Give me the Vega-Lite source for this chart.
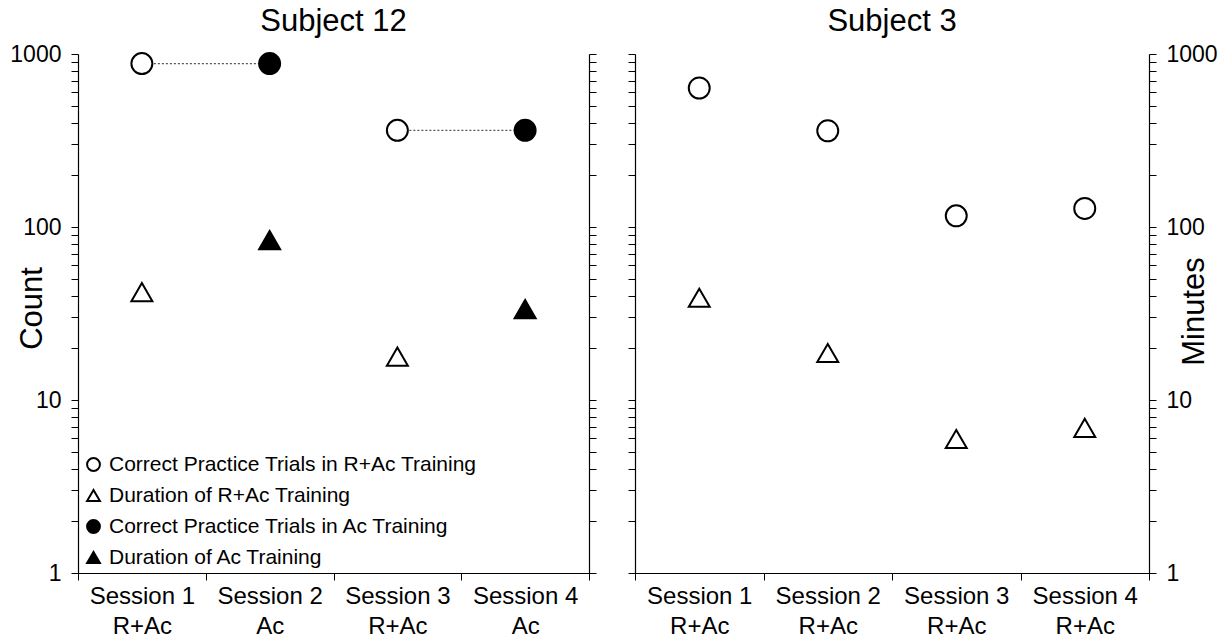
{
  "$schema": "https://vega.github.io/schema/vega-lite/v6.json",
  "padding": {"left": 9, "top": 6, "right": 5, "bottom": 2},
  "background": "white",
  "config": {
    "font": "Liberation Sans",
    "view": {"stroke": null},
    "axis": {
      "labelFont": "Liberation Sans", "labelFontSize": 23, "labelColor": "black",
      "titleFont": "Liberation Sans", "titleFontSize": 31, "titleFontWeight": "normal", "titleColor": "black",
      "domainColor": "black", "domainWidth": 1.2, "tickColor": "black", "tickWidth": 1, "tickSize": 7, "grid": false, "labelPadding": 10
    },
    "title": {"font": "Liberation Sans", "fontSize": 31, "fontWeight": "normal", "color": "black"}
  },
  "datasets": {
    "s12": [
      {"session": "Session 1|R+Ac", "series": "Correct Practice Trials in R+Ac Training", "value": 880, "pair": "A"},
      {"session": "Session 1|R+Ac", "series": "Duration of R+Ac Training", "value": 42, "pair": "none"},
      {"session": "Session 2|Ac", "series": "Correct Practice Trials in Ac Training", "value": 880, "pair": "A"},
      {"session": "Session 2|Ac", "series": "Duration of Ac Training", "value": 84, "pair": "none"},
      {"session": "Session 3|R+Ac", "series": "Correct Practice Trials in R+Ac Training", "value": 362, "pair": "B"},
      {"session": "Session 3|R+Ac", "series": "Duration of R+Ac Training", "value": 17.8, "pair": "none"},
      {"session": "Session 4|Ac", "series": "Correct Practice Trials in Ac Training", "value": 362, "pair": "B"},
      {"session": "Session 4|Ac", "series": "Duration of Ac Training", "value": 33.5, "pair": "none"}
    ],
    "s3": [
      {"session": "Session 1|R+Ac", "series": "Correct Practice Trials in R+Ac Training", "value": 636},
      {"session": "Session 1|R+Ac", "series": "Duration of R+Ac Training", "value": 39},
      {"session": "Session 2|R+Ac ", "series": "Correct Practice Trials in R+Ac Training", "value": 360},
      {"session": "Session 2|R+Ac ", "series": "Duration of R+Ac Training", "value": 18.7},
      {"session": "Session 3|R+Ac", "series": "Correct Practice Trials in R+Ac Training", "value": 116},
      {"session": "Session 3|R+Ac", "series": "Duration of R+Ac Training", "value": 5.95},
      {"session": "Session 4|R+Ac", "series": "Correct Practice Trials in R+Ac Training", "value": 128},
      {"session": "Session 4|R+Ac", "series": "Duration of R+Ac Training", "value": 6.9}
    ]
  },
  "spacing": 30,
  "resolve": {
    "scale": {"fill": "independent", "shape": "independent", "stroke": "independent"},
    "legend": {"fill": "independent", "shape": "independent", "stroke": "independent"}
  },
  "hconcat": [
    {
      "width": 511, "height": 519,
      "title": {"text": "Subject 12", "offset": 5},
      "data": {"name": "s12"},
      "encoding": {
        "x": {
          "field": "session", "type": "nominal", "sort": null,
          "scale": {"type": "band", "paddingInner": 0, "paddingOuter": 0},
          "axis": {"title": null, "labelAngle": 0, "tickBand": "extent", "labelExpr": "split(datum.label, '|')", "labelPadding": 4, "labelLineHeight": 30, "labelFontSize": 24}
        }
      },
      "layer": [
        {
          "transform": [{"filter": "datum.pair != 'none'"}],
          "mark": {"type": "line", "color": "#555555", "strokeWidth": 1.3, "strokeDash": [2, 2]},
          "encoding": {
            "y": {"field": "value", "type": "quantitative", "axis": null},
            "detail": {"field": "pair"}
          }
        },
        {
          "mark": {"type": "point", "filled": true, "strokeWidth": 2, "opacity": 1, "size": 440},
          "encoding": {
            "y": {
              "field": "value", "type": "quantitative",
              "scale": {"type": "log", "domain": [1, 1000], "nice": false},
              "axis": {
                "title": "Count", "orient": "left", "titleX": -37, "titleY": 254, "titleBaseline": "alphabetic",
                "values": [1,2,3,4,5,6,7,8,9,10,20,30,40,50,60,70,80,90,100,200,300,400,500,600,700,800,900,1000],
                "labelExpr": "(datum.value==1||datum.value==10||datum.value==100||datum.value==1000) ? format(datum.value,'d') : ''",
                "labelOverlap": false
              }
            },
            "shape": {
              "field": "series", "type": "nominal",
              "scale": {"domain": ["Correct Practice Trials in R+Ac Training", "Duration of R+Ac Training", "Correct Practice Trials in Ac Training", "Duration of Ac Training"], "range": ["circle", "triangle-up", "circle", "triangle-up"]},
              "legend": {"title": null, "orient": "bottom-left", "offset": 5, "labelFontSize": 21, "labelFont": "Liberation Sans", "labelColor": "black", "labelLimit": 600, "symbolSize": 165, "symbolStrokeWidth": 2, "rowPadding": 9, "labelOffset": 5, "symbolOffset": 0}
            },
            "fill": {
              "field": "series", "type": "nominal",
              "scale": {"domain": ["Correct Practice Trials in R+Ac Training", "Duration of R+Ac Training", "Correct Practice Trials in Ac Training", "Duration of Ac Training"], "range": ["white", "white", "black", "black"]},
              "legend": {"title": null, "orient": "bottom-left", "offset": 5, "labelFontSize": 21, "labelFont": "Liberation Sans", "labelColor": "black", "labelLimit": 600, "symbolSize": 165, "symbolStrokeWidth": 2, "rowPadding": 9, "labelOffset": 5, "symbolOffset": 0}
            },
            "stroke": {
              "field": "series", "type": "nominal",
              "scale": {"domain": ["Correct Practice Trials in R+Ac Training", "Duration of R+Ac Training", "Correct Practice Trials in Ac Training", "Duration of Ac Training"], "range": ["black", "black", "black", "black"]},
              "legend": {"title": null, "orient": "bottom-left", "offset": 5, "labelFontSize": 21, "labelFont": "Liberation Sans", "labelColor": "black", "labelLimit": 600, "symbolSize": 165, "symbolStrokeWidth": 2, "rowPadding": 9, "labelOffset": 5, "symbolOffset": 0}
            }
          }
        },
        {
          "mark": {"type": "point", "opacity": 0},
          "encoding": {
            "y": {
              "field": "value", "type": "quantitative",
              "axis": {
                "title": null, "orient": "right", "labels": false,
                "values": [1,2,3,4,5,6,7,8,9,10,20,30,40,50,60,70,80,90,100,200,300,400,500,600,700,800,900,1000]
              }
            }
          }
        }
      ],
      "resolve": {"axis": {"y": "independent"}}
    },
    {
      "width": 514, "height": 519,
      "title": {"text": "Subject 3", "offset": 5},
      "data": {"name": "s3"},
      "encoding": {
        "x": {
          "field": "session", "type": "nominal", "sort": null,
          "scale": {"type": "band", "paddingInner": 0, "paddingOuter": 0},
          "axis": {"title": null, "labelAngle": 0, "tickBand": "extent", "labelExpr": "split(datum.label, '|')", "labelPadding": 4, "labelLineHeight": 30, "labelFontSize": 24}
        }
      },
      "layer": [
        {
          "mark": {"type": "point", "filled": true, "fill": "white", "stroke": "black", "strokeWidth": 2, "opacity": 1, "size": 440},
          "encoding": {
            "y": {
              "field": "value", "type": "quantitative",
              "scale": {"type": "log", "domain": [1, 1000], "nice": false},
              "axis": {
                "title": null, "orient": "left", "labels": false,
                "values": [1,2,3,4,5,6,7,8,9,10,20,30,40,50,60,70,80,90,100,200,300,400,500,600,700,800,900,1000]
              }
            },
            "shape": {
              "field": "series", "type": "nominal",
              "scale": {"domain": ["Correct Practice Trials in R+Ac Training", "Duration of R+Ac Training"], "range": ["circle", "triangle-up"]},
              "legend": null
            }
          }
        },
        {
          "mark": {"type": "point", "opacity": 0},
          "encoding": {
            "y": {
              "field": "value", "type": "quantitative",
              "axis": {
                "title": "Minutes", "orient": "right", "titleAngle": -90, "titleX": 54, "titleY": 257, "titleBaseline": "alphabetic",
                "values": [1,2,3,4,5,6,7,8,9,10,20,30,40,50,60,70,80,90,100,200,300,400,500,600,700,800,900,1000],
                "labelExpr": "(datum.value==1||datum.value==10||datum.value==100||datum.value==1000) ? format(datum.value,'d') : ''",
                "labelOverlap": false
              }
            }
          }
        }
      ],
      "resolve": {"axis": {"y": "independent"}}
    }
  ]
}
